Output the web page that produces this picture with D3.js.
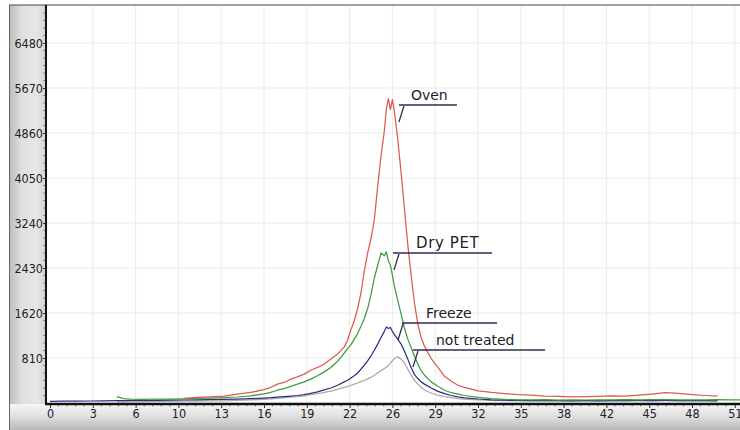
<!DOCTYPE html>
<html><head><meta charset="utf-8">
<script src="https://cdn.jsdelivr.net/npm/d3@7"></script>
<style>html,body{margin:0;padding:0;background:#fff;overflow:hidden}svg{display:block}</style>
</head><body><svg id="chart" width="740" height="430"></svg>
<script>
// ---------- data ----------
const angle = [0,1,2,3,4,5,5.5,6,7,8,9,10,11,12,13,14,15,16,16.5,17,17.5,18,18.5,19,19.5,20,20.5,21,21.5,22,22.25,22.5,22.75,23,23.25,23.5,23.75,24,24.25,24.5,24.75,25,25.15,25.3,25.45,25.6,25.75,26,26.25,26.5,26.75,27,27.25,27.5,27.75,28,28.5,29,29.5,30,30.5,31,32,33,34,35,36,37,38,39,40,41,42,43,44,45,46,47,48,49,49.9,51,52];

const oven = [null,null,null,null,null,null,null,null,null,null,null,
  85,100,112,125,160,190,240,280,340,370,430,470,520,590,640,700,790,880,1010,1130,1320,1480,1700,1980,2380,2700,2960,3300,3900,4450,4900,5300,5480,5280,5460,5250,4750,4150,3500,2850,2300,1800,1420,1180,1020,800,640,480,390,320,280,220,190,170,150,140,125,120,110,115,120,130,125,140,160,185,175,150,135,125,null,null];

const dryPet = [null,null,null,null,null,
  115,80,70,66,72,70,76,82,88,96,108,130,165,190,230,260,300,340,380,430,490,560,640,750,900,980,1050,1150,1250,1380,1520,1700,1950,2250,2480,2700,2650,2720,2560,2480,2300,2100,1850,1600,1350,1150,1000,840,700,580,500,380,300,230,185,160,135,100,78,65,58,55,60,52,56,54,58,55,60,58,62,60,58,56,55,60,58,56];

const freeze = [30,32,34,36,38,42,44,45,46,48,50,54,56,60,64,70,78,88,95,105,115,125,135,150,175,200,235,270,320,380,410,450,490,540,610,680,760,850,950,1060,1180,1290,1370,1340,1360,1290,1230,1150,1060,930,790,640,510,440,380,340,270,210,170,135,110,92,72,58,50,46,44,42,44,40,42,40,44,42,45,44,46,44,42,42,40,null,null];

const notTreated = [null,null,null,null,null,
  25,22,24,26,28,30,32,34,36,40,45,55,66,75,85,95,105,115,130,150,170,190,215,245,280,295,320,340,360,385,410,435,460,500,540,580,620,645,670,720,760,800,830,790,720,610,500,410,340,280,235,180,140,115,95,80,70,56,48,44,40,40,38,40,38,40,38,40,38,40,40,42,40,40,38,38,null,null];

const seriesNames = ["Oven","Dry PET","Freeze","not treated"];
const seriesColors = ["#dc5a4e","#3f9c3f","#2d2d82","#a9a9a9"];

const xTickValues = [0,3.2,6.4,9.6,12.8,16,19.2,22.4,25.6,28.8,32,35.2,38.4,41.6,44.8,48,51.2];
const xTickLabels = ["0","3","6","10","13","16","19","22","26","29","32","35","38","42","45","48","51"];
const yTickValues = [810,1620,2430,3240,4050,4860,5670,6480];
const yTickLabels = ["810","1620","2430","3240","4050","4860","5670","6480"];

// annotation tips in data coordinates
const annoTipX = [26.09,25.72,26.02,27.14];
const annoTipY = [5058,2394,1134,648];

// ---------- drawing ----------
const W = 740, H = 430;
const svg = d3.select("#chart");
const defs = svg.append("defs");

const lg = defs.append("linearGradient").attr("id","leftPanel").attr("x1","0").attr("x2","1").attr("y1","0").attr("y2","0");
[[0,"#bcbcbc"],[0.35,"#e0e0e0"],[0.75,"#e6e6e6"],[1,"#d2d2d2"]].forEach(s=>lg.append("stop").attr("offset",s[0]).attr("stop-color",s[1]));
const bg = defs.append("linearGradient").attr("id","bottomPanel").attr("x1","0").attr("x2","0").attr("y1","0").attr("y2","1");
[[0,"#f6f6f6"],[0.5,"#dedede"],[1,"#b8b8b8"]].forEach(s=>bg.append("stop").attr("offset",s[0]).attr("stop-color",s[1]));

const plotL = 46, plotT = 5, plotB = 404;
defs.append("clipPath").attr("id","plotClip").append("rect")
  .attr("x",plotL+1).attr("y",plotT+1).attr("width",W-plotL-1).attr("height",plotB-plotT-2);

const x = d3.scaleLinear().domain([0,51.2]).range([50,734.8]);
const y = d3.scaleLinear().domain([0,6480]).range([403,43]);

// panels
svg.append("rect").attr("x",9).attr("y",plotT).attr("width",plotL-9).attr("height",plotB-plotT).attr("fill","url(#leftPanel)");
svg.append("rect").attr("x",9).attr("y",plotB).attr("width",W-9).attr("height",H-plotB).attr("fill","url(#bottomPanel)");

// grid
const grid = svg.append("g").attr("clip-path","url(#plotClip)");
grid.selectAll("line.vg").data(xTickValues.slice(1)).join("line")
  .attr("x1",d=>x(d)).attr("x2",d=>x(d)).attr("y1",plotT).attr("y2",plotB)
  .attr("stroke","#ebebeb").attr("stroke-width",1);
grid.selectAll("line.hg").data(yTickValues).join("line")
  .attr("x1",plotL).attr("x2",W).attr("y1",d=>y(d)).attr("y2",d=>y(d))
  .attr("stroke","#ebebeb").attr("stroke-width",1);

// series
const seriesData = [oven, dryPet, freeze, notTreated];
const line = d3.line().defined(d=>d[1]!==null).x(d=>x(d[0])).y(d=>y(d[1]));
const lines = svg.append("g").attr("clip-path","url(#plotClip)");
[3,2,1,0].forEach(i=>{
  const pts = angle.map((a,k)=>[a, seriesData[i][k]]);
  lines.append("path").datum(pts).attr("d",line)
    .attr("fill","none").attr("stroke",seriesColors[i]).attr("stroke-width",1.25)
    .attr("stroke-linejoin","round");
});

// axes
const fontAxis = "'DejaVu Sans Condensed','DejaVu Sans',sans-serif";
const xAxis = d3.axisBottom(x).tickValues(xTickValues).tickFormat((d,i)=>xTickLabels[i]).tickSize(4).tickPadding(1).tickSizeOuter(0);
const gx = svg.append("g").attr("transform",`translate(0,${plotB})`).call(xAxis);
gx.select(".domain").remove();
gx.selectAll("text").attr("font-family",fontAxis).attr("font-size",12.5).attr("fill","#222");
gx.selectAll("line").attr("stroke","#333");

const xMinor = [];
xTickValues.forEach(v=>{ for(let k=1;k<5;k++) xMinor.push(v + k*0.64); });
svg.append("g").selectAll("line").data(xMinor.filter(v=>x(v)<W)).join("line")
  .attr("x1",d=>x(d)).attr("x2",d=>x(d)).attr("y1",plotB).attr("y2",plotB+2.5)
  .attr("stroke","#555").attr("stroke-width",0.8);

const yAxis = d3.axisLeft(y).tickValues(yTickValues).tickFormat((d,i)=>yTickLabels[i]).tickSize(3).tickPadding(0).tickSizeOuter(0);
const gy = svg.append("g").attr("transform",`translate(${plotL},0)`).call(yAxis);
gy.select(".domain").remove();
gy.selectAll("text").attr("font-family",fontAxis).attr("font-size",12.5).attr("fill","#222");
gy.selectAll("line").attr("stroke","#333");

const yMinor = [];
[0].concat(yTickValues).forEach(v=>{ for(let k=1;k<6;k++) yMinor.push(v + k*135); });
svg.append("g").selectAll("line").data(yMinor.filter(v=>y(v)>plotT+1)).join("line")
  .attr("x1",plotL-2.5).attr("x2",plotL).attr("y1",d=>y(d)).attr("y2",d=>y(d))
  .attr("stroke","#555").attr("stroke-width",0.8);

// frame lines
svg.append("line").attr("x1",9).attr("x2",W).attr("y1",plotT).attr("y2",plotT).attr("stroke","#444").attr("stroke-width",1);
svg.append("line").attr("x1",9.5).attr("x2",9.5).attr("y1",plotT).attr("y2",H).attr("stroke","#666").attr("stroke-width",1);
svg.append("line").attr("x1",plotL).attr("x2",plotL).attr("y1",plotT).attr("y2",plotB+1).attr("stroke","#111").attr("stroke-width",2);
svg.append("line").attr("x1",plotL-1).attr("x2",W).attr("y1",plotB).attr("y2",plotB).attr("stroke","#111").attr("stroke-width",2.5);

// annotations
const annoTextDx = [12,22,28,23];
const annoLineStart = [0,-1,4,0];
const annoLineLen = [58,99,95,132];
const annoFontSize = [14,15,14,14];
const ag = svg.append("g");
seriesNames.forEach((name,i)=>{
  const tx = x(annoTipX[i]), ty = y(annoTipY[i]);
  ag.append("line").attr("x1",tx).attr("y1",ty).attr("x2",tx+5).attr("y2",ty-16)
    .attr("stroke","#2e2e4e").attr("stroke-width",1.3);
  ag.append("line").attr("x1",tx+annoLineStart[i]).attr("x2",tx+annoLineStart[i]+annoLineLen[i])
    .attr("y1",ty-17).attr("y2",ty-17).attr("stroke","#2e2e4e").attr("stroke-width",1.3);
  ag.append("text").attr("x",tx+annoTextDx[i]).attr("y",ty-22)
    .attr("font-family","'DejaVu Sans',Verdana,sans-serif").attr("font-size",annoFontSize[i])
    .attr("letter-spacing", i===1 ? 0.6 : 0).attr("fill","#1c1c2a")
    .text(name);
});
</script></body></html>
